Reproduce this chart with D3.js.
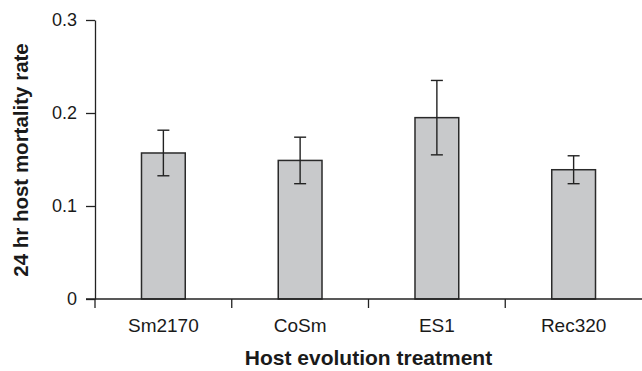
<!DOCTYPE html>
<html>
<head>
<meta charset="utf-8">
<script src="https://cdn.jsdelivr.net/npm/d3@7"></script>
<style>
  body { margin: 0; background: #fff; }
  svg { display: block; font-family: "Liberation Sans", Arial, sans-serif; }
</style>
</head>
<body>
<div id="chart"></div>
<script>
// data
const treatments = ['Sm2170', 'CoSm', 'ES1', 'Rec320'];
const mortality = [0.157, 0.149, 0.195, 0.139];
const errors = [0.0245, 0.025, 0.040, 0.015];
const yTicks = [0, 0.1, 0.2, 0.3];
const yTickLabels = ['0', '0.1', '0.2', '0.3'];

const width = 642;
const height = 371;
const margin = { top: 20, right: 0, bottom: 72, left: 95 };
const innerWidth = width - margin.left - margin.right;
const innerHeight = height - margin.top - margin.bottom;

const svg = d3
  .select('#chart')
  .append('svg')
  .attr('width', width)
  .attr('height', height);

const g = svg
  .append('g')
  .attr('transform', `translate(${margin.left},${margin.top})`);

const x = d3.scaleBand().domain(treatments).range([0, innerWidth]).padding(0);
const y = d3.scaleLinear().domain([0, 0.3]).range([innerHeight, 0]);

const data = treatments.map((t, i) => ({
  name: t,
  value: mortality[i],
  err: errors[i],
}));

// y axis
const yAxis = g
  .append('g')
  .call(
    d3
      .axisLeft(y)
      .tickValues(yTicks)
      .tickFormat((d, i) => yTickLabels[i])
      .tickSize(9)
      .tickPadding(9)
      .tickSizeOuter(0)
  );
yAxis.select('.domain').attr('stroke', '#222').attr('stroke-width', 1.3);
yAxis.selectAll('.tick line').attr('stroke', '#222').attr('stroke-width', 1.3);
yAxis
  .selectAll('.tick text')
  .attr('font-size', 18)
  .attr('fill', '#1a1a1a');

// bars
const barW = x.bandwidth() * 0.32;
g.selectAll('.bar')
  .data(data)
  .enter()
  .append('rect')
  .attr('class', 'bar')
  .attr('x', (d) => x(d.name) + x.bandwidth() / 2 - barW / 2)
  .attr('y', (d) => y(d.value))
  .attr('width', barW)
  .attr('height', (d) => innerHeight - y(d.value))
  .attr('fill', '#c8c9cb')
  .attr('stroke', '#2a2a2a')
  .attr('stroke-width', 1.5);

// error bars
const capW = 12;
const eb = g
  .selectAll('.err')
  .data(data)
  .enter()
  .append('g')
  .attr('class', 'err')
  .attr('stroke', '#222')
  .attr('stroke-width', 1.4);
eb.append('line')
  .attr('x1', (d) => x(d.name) + x.bandwidth() / 2)
  .attr('x2', (d) => x(d.name) + x.bandwidth() / 2)
  .attr('y1', (d) => y(d.value + d.err))
  .attr('y2', (d) => y(d.value - d.err));
eb.append('line')
  .attr('x1', (d) => x(d.name) + x.bandwidth() / 2 - capW / 2)
  .attr('x2', (d) => x(d.name) + x.bandwidth() / 2 + capW / 2)
  .attr('y1', (d) => y(d.value + d.err))
  .attr('y2', (d) => y(d.value + d.err));
eb.append('line')
  .attr('x1', (d) => x(d.name) + x.bandwidth() / 2 - capW / 2)
  .attr('x2', (d) => x(d.name) + x.bandwidth() / 2 + capW / 2)
  .attr('y1', (d) => y(d.value - d.err))
  .attr('y2', (d) => y(d.value - d.err));

// x axis: labels centred, ticks at category boundaries
const xAxis = g
  .append('g')
  .attr('transform', `translate(0,${innerHeight})`)
  .call(d3.axisBottom(x).tickSize(0).tickPadding(20).tickSizeOuter(0));
xAxis.select('.domain').remove();
xAxis
  .selectAll('.tick text')
  .attr('font-size', 19)
  .attr('fill', '#1a1a1a');

xAxis
  .append('line')
  .attr('x1', -9)
  .attr('x2', innerWidth)
  .attr('stroke', '#222')
  .attr('stroke-width', 1.6);

const bounds = treatments.map((t) => x(t));
xAxis
  .selectAll('.bound')
  .data(bounds)
  .enter()
  .append('line')
  .attr('class', 'bound')
  .attr('x1', (d) => d)
  .attr('x2', (d) => d)
  .attr('y1', 0)
  .attr('y2', 9)
  .attr('stroke', '#222')
  .attr('stroke-width', 1.3);

// axis titles
svg
  .append('text')
  .attr('x', margin.left + innerWidth / 2)
  .attr('y', 365)
  .attr('text-anchor', 'middle')
  .attr('font-size', 21)
  .attr('font-weight', 'bold')
  .attr('fill', '#1a1a1a')
  .text('Host evolution treatment');

svg
  .append('text')
  .attr('transform', `translate(28,${margin.top + 140}) rotate(-90)`)
  .attr('text-anchor', 'middle')
  .attr('font-size', 20.5)
  .attr('font-weight', 'bold')
  .attr('fill', '#1a1a1a')
  .text('24 hr host mortality rate');
</script>
</body>
</html>
